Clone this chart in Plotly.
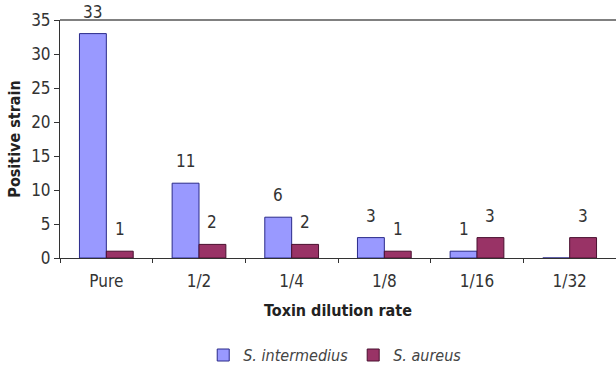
import plotly.graph_objects as go

categories = ["Pure", "1/2", "1/4", "1/8", "1/16", "1/32"]
s_intermedius = [33, 11, 6, 3, 1, 0]
s_aureus = [1, 2, 2, 1, 3, 3]
int_labels = ["33", "11", "6", "3", "1", ""]
aur_labels = ["1", "2", "2", "1", "3", "3"]

FONT = "DejaVu Sans Condensed, DejaVu Sans, Liberation Sans, Arial, sans-serif"
BARGAP = 0.42
PLOT_W = 556
CAT_PX = PLOT_W / len(categories)
OFFSET_PX = (1 - BARGAP) / 4 * CAT_PX

fig = go.Figure()
fig.add_trace(go.Bar(
    x=categories, y=s_intermedius, name="<i>S. intermedius</i>",
    marker=dict(color="#9999FF", line=dict(color="#2a2a8a", width=1)),
))
fig.add_trace(go.Bar(
    x=categories, y=s_aureus, name="<i>S. aureus</i>",
    marker=dict(color="#993366", line=dict(color="#4a1030", width=1)),
))

annotations = []
for series, labels, sign in ((s_intermedius, int_labels, -1), (s_aureus, aur_labels, 1)):
    for cat, val, lab in zip(categories, series, labels):
        if not lab:
            continue
        annotations.append(dict(
            x=cat, y=val, xref="x", yref="y", text=lab, showarrow=False,
            yanchor="bottom", xanchor="center", xshift=sign * OFFSET_PX, yshift=10,
            font=dict(family=FONT, size=17, color="#333333"),
        ))

fig.update_layout(
    width=616, height=368,
    margin=dict(l=60, r=0, t=20, b=110, autoexpand=False),
    paper_bgcolor="white", plot_bgcolor="white",
    barmode="group", bargap=BARGAP, bargroupgap=0,
    font=dict(family=FONT, size=16, color="#333333"),
    showlegend=True,
    legend=dict(orientation="h", x=0.495, xanchor="center", y=-0.408, yanchor="middle",
                font=dict(family=FONT, size=16, color="#444444"),
                itemwidth=30, tracegroupgap=0),
    xaxis=dict(
        type="category", automargin=False, showline=True, linecolor="#333333", linewidth=1,
        ticks="outside", tickson="boundaries", ticklen=4, tickcolor="#333333",
        ticklabelstandoff=8, showgrid=False,
        title=dict(text="<b>Toxin dilution rate</b>", font=dict(family=FONT, size=16, color="#222222"), standoff=14),
        tickfont=dict(family=FONT, size=17, color="#333333"),
    ),
    yaxis=dict(
        range=[0, 35], dtick=5, automargin=False, showline=True, linecolor="#333333", linewidth=1,
        ticks="outside", ticklen=5, tickcolor="#333333", showgrid=False, zeroline=False,
        title=dict(text="<b>Positive strain</b>", font=dict(family=FONT, size=16, color="#222222"), standoff=6),
        tickfont=dict(family=FONT, size=17, color="#333333"),
    ),
    annotations=annotations,
    shapes=[dict(type="line", xref="paper", yref="paper", x0=0, x1=1, y0=1, y1=1,
                 line=dict(color="#808080", width=2))],
)

fig.write_html("out.html", config={"displayModeBar": False},
               post_script="document.body.style.margin='0';")
